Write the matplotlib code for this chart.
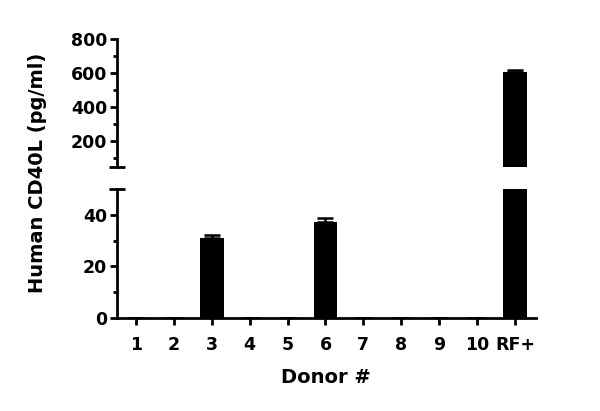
import matplotlib.pyplot as plt
import numpy as np

# data
donors = ['1', '2', '3', '4', '5', '6', '7', '8', '9', '10', 'RF+']
cd40l = [0, 0, 31, 0, 0, 37.3, 0, 0, 0, 0, 606]
cd40l_err = [0, 0, 1.0, 0, 0, 1.3, 0, 0, 0, 0, 12]

plt.rcParams['font.family'] = ['DejaVu Sans']
plt.rcParams['font.weight'] = 'bold'

fig = plt.figure(figsize=(6, 4.11), dpi=100)
ax_top = fig.add_axes([0.195, 0.5937, 0.698, 0.3114])
ax_bot = fig.add_axes([0.195, 0.2263, 0.698, 0.3139])

x = np.arange(1, len(donors) + 1)
zeros = np.zeros(len(cd40l_err))
for ax in (ax_top, ax_bot):
    ax.bar(x, cd40l, width=0.63, color='black', zorder=2)
    ax.errorbar(x, cd40l, yerr=[zeros, cd40l_err], fmt='none', ecolor='black',
                elinewidth=1.8, capsize=5.5, capthick=1.8, zorder=1)
    ax.set_xlim(0.5, 11.55)
    for s in ('top', 'right'):
        ax.spines[s].set_visible(False)
    ax.spines['left'].set_linewidth(2)
    ax.tick_params(axis='y', which='major', length=5, width=2, labelsize=12.5, pad=2)
    ax.tick_params(axis='y', which='minor', length=3, width=2)

# top panel
ax_top.set_ylim(50, 800)
ax_top.set_yticks([200, 400, 600, 800])
ax_top.set_yticks([100, 300, 500, 700], minor=True)
ax_top.spines['bottom'].set_visible(False)
ax_top.set_xticks([])
ax_top.plot([-0.018, 0.018], [0, 0], transform=ax_top.transAxes, color='black',
            lw=2, clip_on=False, solid_capstyle='butt')

# bottom panel
ax_bot.set_ylim(0, 50)
ax_bot.set_yticks([0, 20, 40])
ax_bot.set_yticks([10, 30], minor=True)
ax_bot.spines['bottom'].set_linewidth(2)
ax_bot.set_xticks(x)
ax_bot.set_xticklabels(donors, fontsize=12.5, fontweight='bold')
ax_bot.tick_params(axis='x', length=5, width=2, pad=8)
ax_bot.plot([-0.018, 0.018], [1, 1], transform=ax_bot.transAxes, color='black',
            lw=2, clip_on=False, solid_capstyle='butt')
ax_bot.set_xlabel('Donor #', fontsize=14, fontweight='bold', labelpad=10)

for ax in (ax_top, ax_bot):
    for lab in ax.get_yticklabels():
        lab.set_fontweight('bold')

fig.text(0.062, 0.58, 'Human CD40L (pg/ml)', rotation=90, ha='center', va='center',
         fontsize=14, fontweight='bold')

fig.savefig('out.png', dpi=100)
